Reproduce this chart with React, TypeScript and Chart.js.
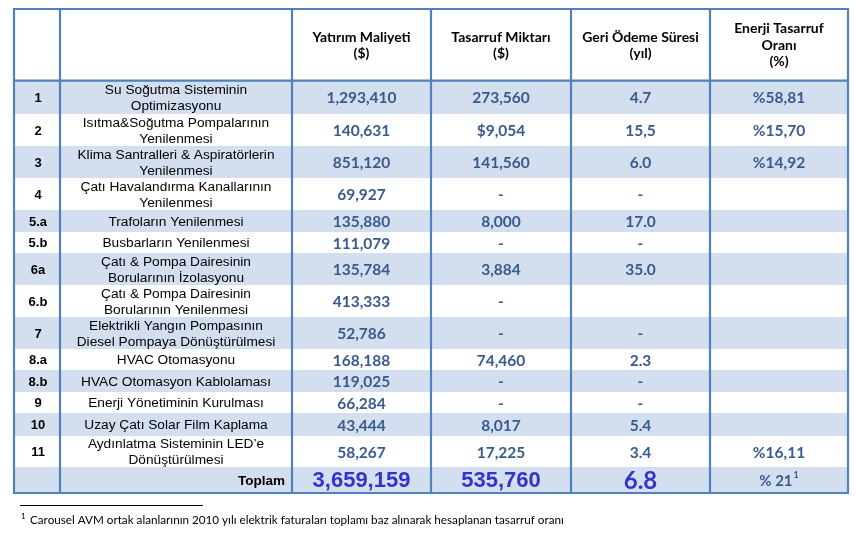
import React, { useEffect, useRef } from "react";
import { Chart, registerables } from "chart.js";

Chart.register(...registerables);

// ---- data ----
const headers = ["", "", "Yatırım Maliyeti\n($)", "Tasarruf Miktarı\n($)", "Geri Ödeme Süresi\n(yıl)", "Enerji Tasarruf\nOranı\n(%)"];
const rowIds = ["1", "2", "3", "4", "5.a", "5.b", "6a", "6.b", "7", "8.a", "8.b", "9", "10", "11"];
const measures = [
  "Su Soğutma Sisteminin\nOptimizasyonu",
  "Isıtma&Soğutma Pompalarının\nYenilenmesi",
  "Klima Santralleri & Aspiratörlerin\nYenilenmesi",
  "Çatı Havalandırma Kanallarının\nYenilenmesi",
  "Trafoların Yenilenmesi",
  "Busbarların Yenilenmesi",
  "Çatı & Pompa Dairesinin\nBorularının İzolasyonu",
  "Çatı & Pompa Dairesinin\nBorularının Yenilenmesi",
  "Elektrikli Yangın Pompasının\nDiesel Pompaya Dönüştürülmesi",
  "HVAC Otomasyonu",
  "HVAC Otomasyon Kablolaması",
  "Enerji Yönetiminin Kurulması",
  "Uzay Çatı Solar Film Kaplama",
  "Aydınlatma Sisteminin LED’e\nDönüştürülmesi",
];
const investmentCost = ["1,293,410", "140,631", "851,120", "69,927", "135,880", "111,079", "135,784", "413,333", "52,786", "168,188", "119,025", "66,284", "43,444", "58,267"];
const savingsAmount = ["273,560", "$9,054", "141,560", "-", "8,000", "-", "3,884", "-", "-", "74,460", "-", "-", "8,017", "17,225"];
const paybackYears = ["4.7", "15,5", "6.0", "-", "17.0", "-", "35.0", "", "-", "2.3", "-", "-", "5.4", "3.4"];
const savingRatio = ["%58,81", "%15,70", "%14,92", "", "", "", "", "", "", "", "", "", "", "%16,11"];
const totalLabel = "Toplam";
const totalCost = "3,659,159";
const totalSavings = "535,760";
const totalPayback = "6.8";
const totalRatio = "% 21";
const totalRatioNote = "1";
const footnote = "Carousel AVM ortak alanlarının 2010 yılı elektrik faturaları toplamı baz alınarak hesaplanan tasarruf oranı";

// ---- layout (grid in scale units) ----
const colEdges = [14, 60, 292, 431, 571, 710, 848];
const rowEdges = [9, 80.7, 114, 146, 178, 210, 232, 253, 285, 317, 349, 370, 392, 413, 436, 467, 493];

const BORDER = "#4F81BD";
const STRIPE = "#D3DFEE";
const VALUE = "#385A8E";
const TOTAL = "#3333CC";
const CAL = "Lato, 'Open Sans', sans-serif";
const ARIAL = "'Liberation Sans', Arial, sans-serif";

const tablePlugin = {
  id: "tablePlugin",
  afterDraw(chart: any) {
    const ctx: CanvasRenderingContext2D = chart.ctx;
    const xs = chart.scales.x;
    const ys = chart.scales.y;
    const X = (v: number) => xs.getPixelForValue(v);
    const Y = (v: number) => ys.getPixelForValue(v);
    const colC = (c: number) => (X(colEdges[c]) + X(colEdges[c + 1])) / 2;
    const rowC = (r: number) => (Y(rowEdges[r]) + Y(rowEdges[r + 1])) / 2;

    ctx.save();
    // stripes
    for (let r = 1; r < rowEdges.length - 1; r++) {
      if (r % 2 === 1) {
        ctx.fillStyle = STRIPE;
        ctx.fillRect(X(colEdges[0]), Y(rowEdges[r]), X(colEdges[6]) - X(colEdges[0]), Y(rowEdges[r + 1]) - Y(rowEdges[r]));
      }
    }

    const text = (t: string, cx: number, cy: number, font: string, color: string, lh: number, align: CanvasTextAlign = "center") => {
      if (!t) return;
      const lines = t.split("\n");
      ctx.font = font;
      ctx.fillStyle = color;
      ctx.textAlign = align;
      ctx.textBaseline = "middle";
      const start = cy - ((lines.length - 1) * lh) / 2;
      lines.forEach((ln, i) => ctx.fillText(ln, cx, start + i * lh));
    };

    // header
    headers.forEach((h, c) => text(h, colC(c), rowC(0) + 0.5, `bold 14px ${CAL}`, "#000", 16.4));

    // body
    rowIds.forEach((id, i) => {
      const r = i + 1;
      const cy = rowC(r);
      text(id, colC(0) + 1, cy + 1, `bold 13px ${ARIAL}`, "#000", 16);
      text(measures[i], colC(1), cy + 1, `13.7px ${ARIAL}`, "#000", 16);
      text(investmentCost[i], colC(2), cy + 1, `bold 15.5px ${CAL}`, VALUE, 16);
      text(savingsAmount[i], colC(3), cy + 1, `bold 15.5px ${CAL}`, VALUE, 16);
      text(paybackYears[i], colC(4), cy + 1, `bold 15.5px ${CAL}`, VALUE, 16);
      text(savingRatio[i], colC(5), cy + 1, `bold 15.5px ${CAL}`, VALUE, 16);
    });

    // total row
    const tr = rowEdges.length - 2;
    const tcy = rowC(tr);
    text(totalLabel, X(colEdges[2]) - 7, tcy + 1, `bold 13.5px ${ARIAL}`, "#000", 16, "right");
    text(totalCost, colC(2), tcy + 1, `bold 22px ${ARIAL}`, TOTAL, 16);
    text(totalSavings, colC(3), tcy + 1, `bold 22px ${ARIAL}`, TOTAL, 16);
    text(totalPayback, colC(4), tcy + 1, `bold 24px ${CAL}`, TOTAL, 16);
    ctx.font = `bold 15px ${CAL}`;
    const w1 = ctx.measureText(totalRatio).width;
    ctx.font = `bold 9px ${CAL}`;
    const w2 = ctx.measureText(totalRatioNote).width;
    const sx = colC(5) - (w1 + w2 + 1) / 2;
    text(totalRatio, sx, tcy + 1, `bold 15px ${CAL}`, VALUE, 16, "left");
    text(totalRatioNote, sx + w1 + 1, tcy - 5, `bold 9px ${CAL}`, VALUE, 16, "left");

    // grid lines
    ctx.strokeStyle = BORDER;
    ctx.lineWidth = 2.2;
    const top = Y(rowEdges[0]);
    const bot = Y(rowEdges[rowEdges.length - 1]);
    colEdges.forEach((cx) => {
      ctx.beginPath();
      ctx.moveTo(X(cx), top - 1);
      ctx.lineTo(X(cx), bot + 1);
      ctx.stroke();
    });
    [rowEdges[0], rowEdges[1], rowEdges[rowEdges.length - 1]].forEach((ry) => {
      ctx.beginPath();
      ctx.moveTo(X(colEdges[0]) - 1, Y(ry));
      ctx.lineTo(X(colEdges[6]) + 1, Y(ry));
      ctx.stroke();
    });

    // footnote
    ctx.strokeStyle = "#000";
    ctx.lineWidth = 1;
    ctx.beginPath();
    ctx.moveTo(X(20), Y(505.5));
    ctx.lineTo(X(203), Y(505.5));
    ctx.stroke();
    text("1", X(21), Y(516), `8px ${CAL}`, "#000", 10, "left");
    text(footnote, X(30), Y(520.5), `11.7px ${CAL}`, "#000", 12, "left");

    ctx.restore();
  },
};

export default function App() {
  const ref = useRef<HTMLCanvasElement | null>(null);
  useEffect(() => {
    if (!ref.current) return;
    const chart = new Chart(ref.current, {
      type: "scatter",
      data: { datasets: [] },
      options: {
        animation: false,
        responsive: true,
        maintainAspectRatio: false,
        layout: { padding: 0 },
        scales: {
          x: { type: "linear", min: 0, max: 856, display: false },
          y: { type: "linear", min: 0, max: 542, reverse: true, display: false },
        },
        plugins: { legend: { display: false }, tooltip: { enabled: false } },
      },
      plugins: [tablePlugin],
    } as any);
    return () => chart.destroy();
  }, []);
  return (
    <div style={{ position: "absolute", left: 0, top: 0, width: 856, height: 542, background: "#fff" }}>
      <canvas ref={ref} />
    </div>
  );
}
